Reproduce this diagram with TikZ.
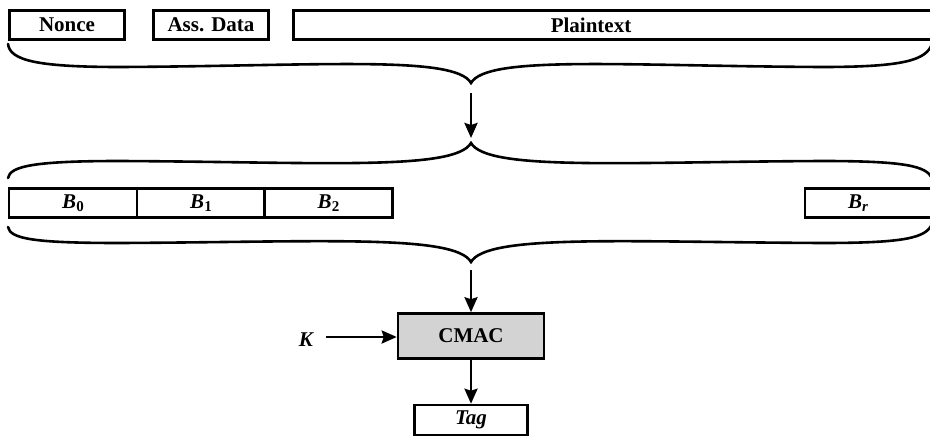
\documentclass[tikz,border=0pt]{standalone}
\usepackage{fontspec}
\setmainfont{Liberation Serif}
\usetikzlibrary{arrows.meta}
\definecolor{cmacfill}{RGB}{211,211,211}
\newcommand{\bsub}[1]{\raisebox{-0.35ex}{\fontsize{15pt}{15pt}\selectfont\bfseries #1}}
\tikzset{
  box/.style={draw, line width=2.6pt, minimum height=29pt, inner sep=0pt,
    font=\fontsize{21pt}{23pt}\selectfont\bfseries},
  blk/.style={box, minimum width=128pt},
  brace/.style={line width=2.6pt, line cap=round},
  arr/.style={line width=2.6pt, -{Stealth[length=15pt,width=13pt,inset=2pt]}}
}
\begin{document}
\begin{tikzpicture}[x=1pt,y=-1pt]
\useasboundingbox (0,0) rectangle (930,439);
\clip (0,0) rectangle (930,439);
% top row
\node[box, minimum width=115pt] (nonce) at (67,25) {Nonce};
\node[box, minimum width=115pt] (ass) at (211,25) {Ass. Data};
\node[box, minimum width=650pt] (plain) at (618.5,25) {Plaintext\hspace*{55pt}};
% brace 1 (cusp down)
\coordinate (c1) at (471,83);
\draw[brace] (8,44) .. controls (10,60) and (35,67) .. (120,67)
  .. controls (320,66) and (455,55) .. (c1)
  .. controls (487,55) and (622,66) .. (822,67)
  .. controls (905,67) and (926,60) .. (932,44);
% arrow 1
\coordinate (a1s) at (471,93);
\coordinate (a1e) at (471,138);
\draw[arr] (a1s) -- (a1e);
% brace 2 (cusp up)
\coordinate (c2) at (471,143);
\draw[brace] (8,178) .. controls (10,166) and (35,161) .. (120,161)
  .. controls (320,162) and (455,171) .. (c2)
  .. controls (487,171) and (622,162) .. (822,161)
  .. controls (905,161) and (926,166) .. (932,178);
% blocks
\node[blk] (b0) at (73,203) {\textit{B}\bsub{0}};
\node[blk] (b1) at (201,203) {\textit{B}\bsub{1}};
\node[blk] (b2) at (328.5,203) {\textit{B}\bsub{2}};
\node[blk] (br) at (869,203) {\textit{B}\bsub{\textit{r}}\hspace*{22pt}};
% brace 3 (cusp down)
\coordinate (c3) at (471,262);
\draw[brace] (8,227) .. controls (10,239) and (35,243) .. (120,243)
  .. controls (320,242) and (455,234) .. (c3)
  .. controls (487,234) and (622,242) .. (822,243)
  .. controls (905,243) and (926,238) .. (932,224);
% CMAC
\node[box, fill=cmacfill, minimum width=146pt, minimum height=45pt] (cmac) at (471,336) {CMAC};
\coordinate (a3s) at (471,270);
\draw[arr] (a3s) -- (cmac.north);
\node[font=\fontsize{21pt}{23pt}\selectfont\bfseries\itshape] (k) at (306,340) {K};
\draw[arr] (326,337) -- (cmac.west |- 0,337);
\node[box, minimum width=113pt, minimum height=30pt] (tag) at (471,420) {\textit{Tag}};
\draw[arr] (cmac.south) -- (tag.north);
\end{tikzpicture}
\end{document}
